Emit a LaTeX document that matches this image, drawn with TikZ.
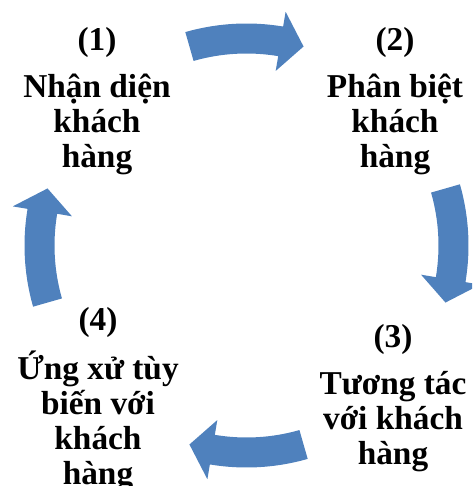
\documentclass[tikz,border=0pt]{standalone}
\usepackage{fontspec}
\setmainfont{Liberation Serif}
\definecolor{cycleblue}{RGB}{79,129,189}
\tikzset{
  steptext/.style={align=center, anchor=north, inner sep=0pt,
    font=\fontsize{25}{26.25}\selectfont\bfseries},
  cyclearrow/.style={fill=cycleblue}
}
\begin{document}
\begin{tikzpicture}[x=0.75pt, y=0.75pt]
  \clip (0,0) rectangle (472,486);
  \coordinate (O) at (246.5,240.5);

  % bent arrows, one between each pair of steps
  \foreach \a in {90,0,-90,180} {
    \fill[cyclearrow, shift={(O)}]
      (\a+16:222) arc[start angle=\a+16, end angle=\a-9.5, radius=222]
      -- (\a-9.5:237) -- (\a-16:207) -- (\a-9.5:177) -- (\a-9.5:192)
      arc[start angle=\a-9.5, end angle=\a+16, radius=192] -- cycle;
  }

  \node[steptext] (s1) at (97,459) {(1)\\[9pt]Nhận diện\\khách\\hàng};
  \node[steptext] (s2) at (395,459) {(2)\\[9pt]Phân biệt\\khách\\hàng};
  \node[steptext] (s3) at (393,162) {(3)\\[9pt]Tương tác\\với khách\\hàng};
  \node[steptext] (s4) at (98,179) {(4)\\[9pt]Ứng xử tùy\\biến với\\khách\\hàng};
\end{tikzpicture}
\end{document}
